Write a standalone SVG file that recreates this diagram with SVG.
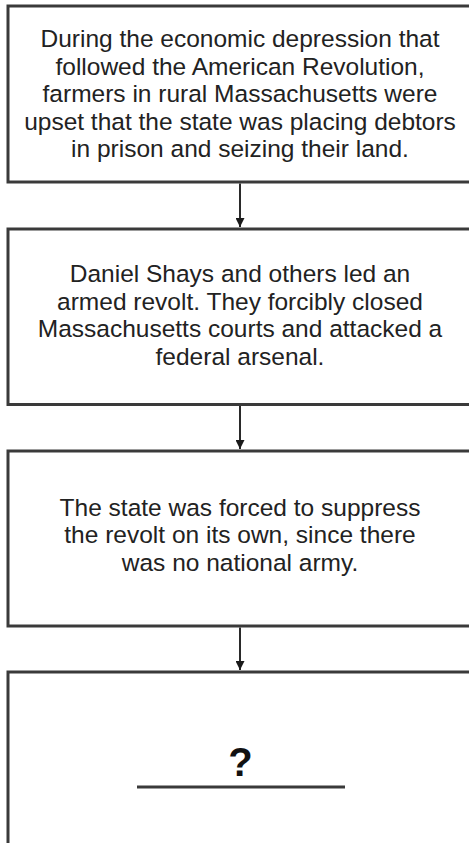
<svg xmlns="http://www.w3.org/2000/svg" width="469" height="843" viewBox="0 0 469 843">
<style>
.box{fill:#fff;stroke:#3a3a3a;stroke-width:3}
.t{font-family:"Liberation Sans",Arial,sans-serif;font-size:24.5px;fill:#222;text-anchor:middle}
.q{font-family:"Liberation Sans",Arial,sans-serif;font-size:40px;font-weight:bold;fill:#111;text-anchor:middle}
.conn{stroke:#2a2a2a;stroke-width:2;fill:none}
</style>
<defs>
<marker id="ah" viewBox="0 0 10 10" refX="10" refY="5" markerWidth="4.5" markerHeight="4.5" markerUnits="strokeWidth" orient="auto">
<path d="M0,0 L10,5 L0,10 Z" fill="#1a1a1a"/>
</marker>
</defs>
<rect width="469" height="843" fill="#fff"/>
<g id="node1">
<rect class="box" x="8" y="6" width="470" height="176"/>
<text class="t" x="240" y="47">During the economic depression that</text>
<text class="t" x="240" y="74.5">followed the American Revolution,</text>
<text class="t" x="240" y="102">farmers in rural Massachusetts were</text>
<text class="t" x="240" y="129.5">upset that the state was placing debtors</text>
<text class="t" x="240" y="157">in prison and seizing their land.</text>
</g>
<g id="node2">
<rect class="box" x="8" y="229" width="470" height="175.5"/>
<text class="t" x="240" y="282">Daniel Shays and others led an</text>
<text class="t" x="240" y="309.5">armed revolt. They forcibly closed</text>
<text class="t" x="240" y="337">Massachusetts courts and attacked a</text>
<text class="t" x="240" y="364.5">federal arsenal.</text>
</g>
<g id="node3">
<rect class="box" x="8" y="451" width="470" height="175"/>
<text class="t" x="240" y="515.5">The state was forced to suppress</text>
<text class="t" x="240" y="543">the revolt on its own, since there</text>
<text class="t" x="240" y="570.5">was no national army.</text>
</g>
<g id="node4">
<rect class="box" x="8" y="672" width="470" height="190"/>
<text class="q" x="240.5" y="776">?</text>
<line x1="137" y1="787" x2="345" y2="787" stroke="#3a3a3a" stroke-width="3"/>
</g>
<g id="connectors">
<line class="conn" x1="240" y1="183.5" x2="240" y2="227" marker-end="url(#ah)"/>
<line class="conn" x1="240" y1="406" x2="240" y2="449" marker-end="url(#ah)"/>
<line class="conn" x1="240" y1="627.5" x2="240" y2="670" marker-end="url(#ah)"/>
</g>
</svg>
